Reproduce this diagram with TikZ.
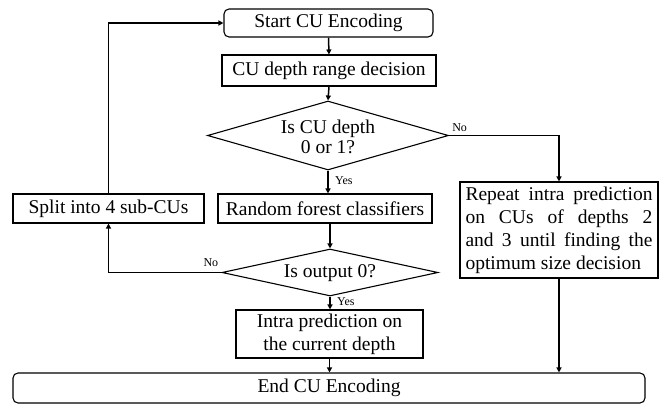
\documentclass[tikz,border=0pt]{standalone}
\usepackage{fontspec}
\setmainfont{Liberation Serif}
\usetikzlibrary{arrows.meta,shapes.geometric}
\begin{document}
\begin{tikzpicture}[x=1pt,y=-1pt,
  box/.style={draw, line width=1.1pt, inner sep=0pt, align=center,
    font=\fontsize{19.5}{23}\selectfont},
  rbox/.style={box, rounded corners=5pt},
  dia/.style={draw, line width=1.1pt, diamond, inner sep=0pt},
  dtext/.style={inner sep=0pt, align=center, font=\fontsize{19.5}{20}\selectfont},
  lab/.style={inner sep=1pt, font=\fontsize{12}{14}\selectfont},
  conn/.style={line width=1.5pt, -{Triangle[length=5pt,width=5pt]}},
  plain/.style={line width=1.5pt}]
\useasboundingbox (0,0) rectangle (665,405);
% nodes
\node[rbox, minimum width=209pt, minimum height=28pt] (start) at (328.5,23) {Start CU Encoding};
\node[box, minimum width=214pt, minimum height=31pt] (range) at (329,70.5) {CU depth range decision};
\node[dia, minimum width=241pt, minimum height=69pt] (d1) at (328,135.5) {};
\node[dtext] (d1t) at (328,137) {Is CU depth\\0 or 1?};
\node[box, minimum width=214pt, minimum height=29pt] (rf) at (325,208.5) {Random forest classifiers};
\node[box, minimum width=191pt, minimum height=29pt] (split) at (108.5,208.5) {Split into 4 sub-CUs};
\node[box, minimum width=198pt, minimum height=96pt] (repeat) at (559,230)
  {\parbox{187pt}{\fontsize{19.5}{23}\selectfont Repeat intra prediction\linebreak on CUs of depths 2\linebreak and 3 until finding the\linebreak optimum size decision}};
\node[dia, minimum width=216pt, minimum height=47pt] (d2) at (330,272.5) {};
\node[dtext] (d2t) at (330,273.5) {Is output 0?};
\node[box, minimum width=187pt, minimum height=48pt] (intra) at (329.5,334) {Intra prediction on\\the current depth};
\node[rbox, minimum width=632pt, minimum height=30pt] (end) at (329,388) {End CU Encoding};
% connectors
\draw[conn] (start.south) -- (range.north);
\draw[conn] (range.south) -- (d1.north);
\draw[conn] (d1.south) -- (d1.south |- rf.north);
\draw[conn] (d1.east) -| (repeat.north);
\draw[conn] (rf.south -| d2.north) -- (d2.north);
\draw[conn] (d2.west) -| (split.south);
\draw[conn] (split.north) |- (start.west);
\draw[conn] (d2.south) -- (d2.south |- intra.north);
\draw[conn] (intra.south) -- (intra.south |- end.north);
\draw[conn] (repeat.south) -- (repeat.south |- end.north);
% labels
\node[lab, anchor=south west] (no1) at ([xshift=2pt,yshift=3pt]d1.east) {No};
\node[lab, anchor=west] (yes1) at (334,181) {Yes};
\node[lab, anchor=south east] (no2) at ([xshift=-2pt,yshift=5pt]d2.west) {No};
\node[lab, anchor=west] (yes2) at (336,302) {Yes};
\end{tikzpicture}
\end{document}
